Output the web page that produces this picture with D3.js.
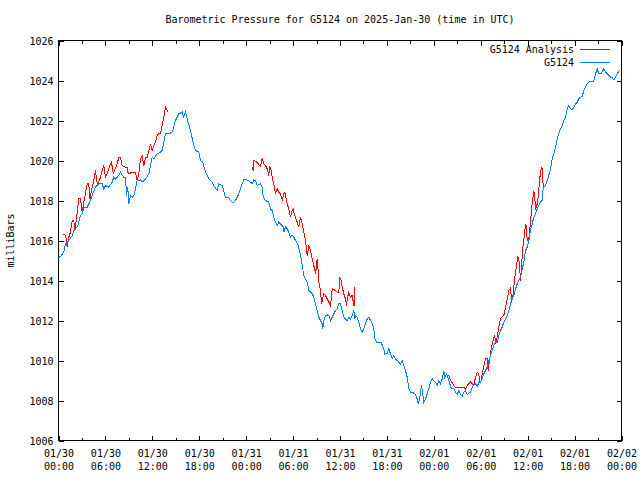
<!DOCTYPE html>
<html>
<head>
<meta charset="utf-8">
<script src="https://cdn.jsdelivr.net/npm/d3@7"></script>
<style>
  html, body { margin: 0; padding: 0; background: #fff; }
  svg { display: block; }
  text { font-family: "DejaVu Sans Mono", "Liberation Mono", monospace; font-size: 10px; fill: #000; }
</style>
</head>
<body>
<svg id="chart" width="640" height="480"></svg>
<script>
// ---- data (hours after 2025-01-30 00:00 UTC, pressure in mb) ----
const titleText = "Barometric Pressure for G5124 on 2025-Jan-30 (time in UTC)";
const yLabelText = "milliBars";
const seriesNames = ["G5124 Analysis", "G5124"];
const yTicks = [1006, 1008, 1010, 1012, 1014, 1016, 1018, 1020, 1022, 1024, 1026];

const stationHours = [0.00,0.26,0.68,0.90,1.32,1.75,1.96,2.39,2.60,2.81,3.03,3.24,3.67,3.88,4.31,4.73,5.15,5.59,5.79,6.01,6.43,6.87,7.07,7.29,7.71,7.93,8.15,8.35,8.57,8.70,8.86,8.99,9.21,9.43,9.63,9.85,10.06,10.49,10.70,11.13,11.55,11.98,12.19,12.62,13.04,13.26,13.47,13.68,14.11,14.54,14.75,14.96,15.38,15.82,16.02,16.24,16.46,16.88,17.30,17.52,17.94,18.16,18.45,18.80,19.22,19.66,19.86,20.30,20.50,20.94,21.36,21.78,22.00,22.34,22.64,23.06,23.49,23.70,24.13,24.55,24.77,24.98,25.19,25.41,25.83,26.05,26.18,26.47,26.89,27.11,27.33,27.53,27.75,27.97,28.17,28.39,28.74,28.81,29.03,29.25,29.45,29.67,29.89,30.09,30.31,30.60,30.95,31.17,31.37,31.59,31.81,32.01,32.23,32.45,32.65,32.87,33.08,33.29,33.51,33.72,33.80,33.93,34.15,34.36,34.57,34.79,35.00,35.21,35.43,35.64,35.85,36.06,36.28,36.49,36.70,36.92,37.13,37.34,37.56,37.77,37.89,37.98,38.20,38.40,38.62,38.84,39.04,39.26,39.48,39.68,39.90,40.12,40.32,40.45,40.67,40.96,41.27,41.53,41.73,42.04,42.24,42.46,42.68,42.88,43.10,43.32,43.52,43.74,43.96,44.16,44.38,44.59,44.80,45.02,45.44,45.66,45.87,46.00,46.17,46.30,46.42,46.59,46.72,46.94,47.15,47.36,47.57,47.79,48.00,48.21,48.43,48.64,48.85,49.07,49.28,49.40,49.62,49.79,49.91,50.04,50.26,50.55,50.77,50.99,51.19,51.41,51.63,51.83,52.05,52.27,52.47,52.69,52.91,53.11,53.33,53.55,53.75,53.97,54.19,54.39,54.61,54.83,55.03,55.25,55.47,55.67,55.89,56.10,56.31,56.53,56.74,56.95,57.17,57.38,57.59,57.81,58.02,58.23,58.45,58.66,58.87,59.09,59.30,59.51,59.72,59.94,60.15,60.36,60.58,60.79,61.00,61.22,61.43,61.64,61.86,61.99,62.28,62.50,62.70,62.92,63.14,63.34,63.56,63.78,63.98,64.20,64.42,64.62,64.84,65.06,65.26,65.48,65.70,65.90,66.12,66.34,66.54,66.76,66.98,67.18,67.40,67.61,67.82,68.46,68.68,68.89,69.10,69.32,69.53,69.74,69.96,70.18,70.38,70.60,70.81,71.02,71.23,71.45,71.66,71.87];
const stationPressure = [1015.15,1015.2,1015.42,1015.83,1016.0,1016.25,1016.5,1016.67,1016.92,1017.25,1017.33,1017.67,1017.67,1017.83,1018.25,1018.67,1018.83,1018.83,1018.58,1018.75,1018.67,1018.92,1019.17,1019.08,1019.25,1019.42,1019.25,1019.17,1019.17,1018.25,1018.67,1017.83,1018.25,1018.17,1018.25,1018.58,1019.0,1019.03,1018.92,1019.08,1019.33,1020.17,1020.08,1020.33,1020.42,1020.5,1020.92,1021.33,1021.33,1021.42,1021.67,1022.0,1022.33,1022.42,1022.17,1022.42,1022.08,1021.5,1020.75,1020.5,1020.42,1020.0,1019.92,1019.42,1019.08,1018.92,1018.75,1018.5,1018.83,1018.75,1018.15,1018.13,1018.0,1017.87,1018.0,1018.33,1018.83,1019.03,1019.03,1018.92,1018.83,1019.03,1019.0,1018.75,1018.83,1018.67,1018.17,1018.0,1017.92,1017.58,1017.5,1017.17,1016.92,1016.75,1016.92,1016.83,1016.7,1016.42,1016.67,1016.58,1016.42,1016.17,1016.25,1016.17,1016.0,1015.83,1015.25,1014.75,1014.25,1014.08,1013.92,1013.5,1013.42,1013.33,1013.17,1012.83,1012.5,1012.17,1012.0,1011.83,1011.58,1012.0,1012.25,1012.28,1012.25,1012.0,1012.17,1012.33,1012.5,1012.58,1012.83,1012.83,1012.5,1012.17,1012.08,1012.0,1012.17,1012.08,1012.25,1012.5,1012.08,1012.25,1012.17,1011.92,1011.58,1011.42,1011.58,1011.83,1012.08,1012.17,1012.0,1011.87,1011.58,1011.08,1010.92,1010.9,1010.88,1010.67,1010.33,1010.37,1010.58,1010.33,1010.08,1010.25,1010.08,1010.0,1009.92,1009.8,1010.0,1009.75,1009.5,1009.17,1008.58,1008.42,1008.37,1008.3,1008.08,1007.83,1008.08,1008.42,1008.75,1008.33,1007.92,1008.08,1008.33,1008.58,1008.92,1009.08,1008.97,1008.92,1008.75,1009.0,1008.83,1009.08,1009.47,1009.17,1009.33,1009.17,1009.0,1008.83,1008.58,1008.58,1008.42,1008.3,1008.5,1008.33,1008.2,1008.42,1008.5,1008.3,1008.37,1008.42,1008.67,1008.75,1008.83,1008.72,1008.88,1008.92,1009.08,1009.33,1009.5,1009.67,1010.0,1010.25,1010.5,1010.75,1010.92,1010.92,1011.25,1011.5,1011.67,1011.92,1012.08,1012.25,1012.5,1012.83,1013.08,1013.25,1013.58,1013.83,1014.0,1014.17,1014.58,1014.92,1015.5,1015.67,1016.0,1016.5,1016.83,1017.17,1017.33,1017.58,1017.75,1017.92,1018.0,1018.67,1018.75,1019.0,1019.25,1019.58,1020.08,1020.33,1020.67,1021.08,1021.33,1021.58,1021.75,1022.0,1022.17,1022.58,1022.75,1022.58,1022.53,1022.67,1022.83,1022.92,1023.08,1023.17,1023.2,1023.5,1023.67,1023.83,1023.92,1023.97,1024.33,1024.58,1024.33,1024.33,1024.42,1024.58,1024.42,1024.33,1024.25,1024.17,1024.13,1024.03,1024.17,1024.33,1024.47,1024.5];

// analysis series: null marks a gap between runs
const analysisHours = [0.58,0.90,1.02,1.11,1.32,1.53,1.75,1.96,2.08,2.26,2.39,2.60,2.81,3.03,3.24,3.67,3.88,4.00,4.31,4.51,4.73,4.95,5.15,5.37,5.59,5.79,6.01,6.23,6.43,6.65,6.78,7.00,7.16,7.42,7.71,7.93,8.15,8.57,8.79,8.86,8.99,9.43,9.85,10.06,10.27,10.49,10.70,10.91,11.13,11.34,11.55,11.77,11.98,12.19,12.41,12.62,12.83,13.04,13.26,13.47,13.68,13.90,14.03,
  null,
  24.77,24.90,24.98,25.19,25.62,25.83,26.05,26.26,26.47,26.69,26.89,27.02,27.20,27.33,27.53,27.75,27.97,28.17,28.39,28.61,28.81,28.94,29.12,29.25,29.45,29.67,29.89,30.02,30.18,30.31,30.53,30.73,30.95,31.17,31.37,31.59,31.81,32.01,32.23,32.45,32.65,32.87,33.08,33.16,33.29,33.51,33.63,33.93,34.15,34.36,34.57,34.79,35.00,35.43,35.64,35.85,35.97,36.15,36.28,36.49,36.70,36.83,36.92,37.13,37.34,37.56,37.77,37.86,37.89,
  null,
  49.62,49.91,50.13,50.35,50.55,50.77,51.41,51.83,52.05,52.27,52.69,52.91,53.11,53.33,53.55,53.75,53.88,54.06,54.19,54.39,54.61,54.83,54.95,55.03,55.16,55.25,55.47,55.67,55.80,55.89,56.01,56.18,56.31,56.53,56.74,56.95,57.17,57.38,57.59,57.81,57.93,58.10,58.23,58.36,58.54,58.74,58.87,59.00,59.09,59.21,59.38,59.60,59.72,59.85,59.94,60.15,60.28,60.45,60.62,60.79,60.88,61.00,61.13,61.30,61.48,61.64,61.77,61.86,61.99];
const analysisPressure = [1016.33,1016.25,1016.0,1015.67,1016.17,1016.42,1017.0,1017.0,1016.5,1017.0,1017.42,1018.08,1018.08,1017.42,1017.92,1018.83,1018.83,1018.08,1018.67,1019.0,1019.5,1018.83,1018.92,1019.17,1019.5,1019.75,1019.17,1019.33,1019.58,1019.83,1019.92,1019.33,1019.5,1019.75,1020.13,1020.13,1019.75,1019.67,1019.63,1019.42,1019.33,1019.42,1019.42,1019.0,1019.33,1020.08,1020.25,1019.75,1020.17,1020.17,1020.5,1020.83,1020.5,1020.75,1020.92,1021.25,1021.33,1021.33,1021.75,1022.17,1022.67,1022.5,1022.42,
  null,
  1019.67,1019.5,1020.0,1019.97,1019.8,1019.7,1020.13,1019.83,1019.75,1019.58,1019.25,1019.7,1019.5,1019.17,1018.83,1018.33,1018.58,1018.42,1018.33,1018.03,1018.33,1018.42,1018.08,1017.83,1017.58,1017.17,1017.5,1017.58,1017.25,1017.17,1016.92,1016.67,1017.17,1016.83,1016.42,1016.0,1015.25,1015.75,1015.5,1015.08,1014.75,1014.33,1015.08,1014.75,1013.92,1013.5,1012.83,1013.33,1013.25,1013.08,1012.92,1012.75,1013.58,1013.5,1013.42,1013.42,1014.17,1014.0,1013.67,1013.33,1013.08,1012.75,1013.08,1013.42,1013.17,1013.25,1012.75,1012.75,1013.67,
  null,
  1009.25,1009.25,1009.0,1008.88,1008.75,1008.63,1008.67,1008.67,1008.58,1008.75,1008.92,1008.83,1008.75,1009.17,1009.42,1009.33,1008.92,1009.0,1009.33,1009.75,1010.08,1010.08,1009.5,1009.75,1010.08,1010.42,1010.83,1011.17,1011.25,1010.83,1011.0,1011.33,1011.67,1012.08,1012.2,1012.25,1012.67,1013.08,1013.5,1013.63,1013.0,1013.17,1013.67,1014.17,1014.67,1015.17,1015.08,1014.5,1014.0,1014.67,1015.67,1016.33,1016.83,1016.67,1016.0,1016.08,1016.58,1017.33,1018.0,1018.42,1018.33,1017.58,1017.67,1018.0,1018.83,1019.42,1019.63,1019.58,1018.67];

const seriesColors = ["#ff0000", "#0080ff"];

// ---- chart ----
const svg = d3.select("#chart");
const START = Date.UTC(2025, 0, 30);
const HOUR = 3600000;
const L = 58.5, R = 621.5, T = 40.5, B = 440.5;

const x = d3.scaleUtc().domain([new Date(START), new Date(START + 72 * HOUR)]).range([L, R]);
const y = d3.scaleLinear().domain([1006, 1026]).range([B, T]);

const toPts = (hs, ps) => hs.map((h, i) => h === null ? null : { t: new Date(START + h * HOUR), v: ps[i] });

const line = d3.line()
  .defined(d => d !== null)
  .x(d => x(d.t))
  .y(d => y(d.v));

// axes
const majorTicks = d3.utcHour.every(6);
const minorTicks = d3.utcHour.every(3);

function styleAxis(g) {
  g.select(".domain").remove();
  g.selectAll(".tick line").attr("stroke", "#000").attr("shape-rendering", "crispEdges");
}

svg.append("g").attr("transform", `translate(0,${B})`)
  .call(d3.axisBottom(x).ticks(minorTicks).tickSize(-3).tickFormat(""))
  .call(styleAxis);
svg.append("g").attr("transform", `translate(0,${T})`)
  .call(d3.axisTop(x).ticks(minorTicks).tickSize(-3).tickFormat(""))
  .call(styleAxis);
svg.append("g").attr("transform", `translate(0,${T})`)
  .call(d3.axisTop(x).ticks(majorTicks).tickSize(-5).tickFormat(""))
  .call(styleAxis);

const fmtDate = d3.utcFormat("%m/%d");
const fmtTime = d3.utcFormat("%H:%M");
const xAxisG = svg.append("g").attr("transform", `translate(0,${B})`)
  .call(d3.axisBottom(x).ticks(majorTicks).tickSize(-5).tickPadding(0).tickFormat(""))
  .call(styleAxis);
xAxisG.selectAll(".tick text").remove();
xAxisG.selectAll(".tick").each(function(d) {
  const t = d3.select(this).append("text").attr("text-anchor", "middle").attr("fill", "#000");
  t.append("tspan").attr("x", 0).attr("y", 16).text(fmtDate(d));
  t.append("tspan").attr("x", 0).attr("y", 29).text(fmtTime(d));
});

const yAxisG = svg.append("g").attr("transform", `translate(${L},0)`)
  .call(d3.axisLeft(y).tickValues(yTicks).tickSize(-5).tickPadding(5).tickFormat(d3.format("d")))
  .call(styleAxis);
yAxisG.selectAll(".tick text")
  .attr("x", -5).attr("dy", "0.35em")
  .style("font-family", '"DejaVu Sans Mono", monospace').style("font-size", "10px").attr("fill", "#000");
svg.append("g").attr("transform", `translate(${R},0)`)
  .call(d3.axisRight(y).tickValues(yTicks).tickSize(-5).tickFormat(""))
  .call(styleAxis);

// frame
svg.append("rect")
  .attr("x", L).attr("y", T).attr("width", R - L).attr("height", B - T)
  .attr("fill", "none").attr("stroke", "#000").attr("shape-rendering", "crispEdges");

// series
svg.append("path")
  .datum(toPts(analysisHours, analysisPressure))
  .attr("fill", "none").attr("stroke", seriesColors[0]).attr("stroke-width", 1)
  .attr("shape-rendering", "crispEdges")
  .attr("d", line);
svg.append("path")
  .datum(toPts(stationHours, stationPressure))
  .attr("fill", "none").attr("stroke", seriesColors[1]).attr("stroke-width", 1)
  .attr("shape-rendering", "crispEdges")
  .attr("d", line);

// title
svg.append("text").attr("x", (L + R) / 2).attr("y", 23).attr("text-anchor", "middle").text(titleText);

// y label
svg.append("text")
  .attr("transform", `translate(14,${(T + B) / 2}) rotate(-90)`)
  .attr("text-anchor", "middle").text(yLabelText);

// legend
const legend = svg.append("g");
seriesNames.forEach((name, i) => {
  const ly = 49.5 + i * 13;
  legend.append("text").attr("x", 574).attr("y", ly).attr("dy", "0.35em").attr("text-anchor", "end").text(name);
  legend.append("line").attr("x1", 580).attr("x2", 610).attr("y1", ly).attr("y2", ly)
    .attr("stroke", seriesColors[i]).attr("shape-rendering", "crispEdges");
});
</script>
</body>
</html>
